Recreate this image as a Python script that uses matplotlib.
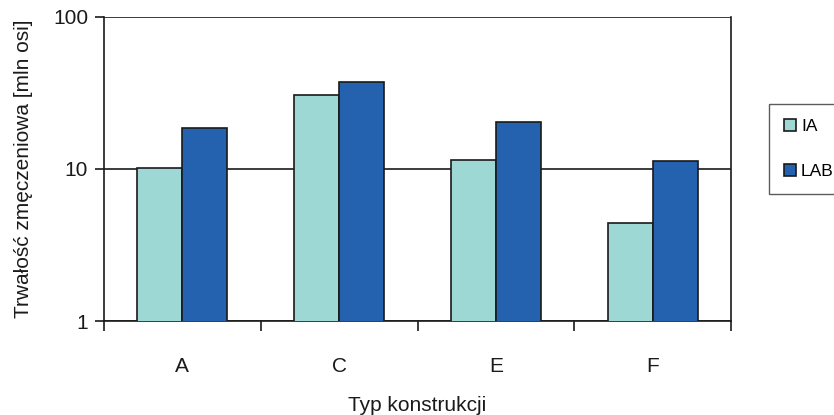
import numpy as np
import matplotlib
matplotlib.use("Agg")
import matplotlib.pyplot as plt
from matplotlib.ticker import FixedLocator, NullFormatter, FixedFormatter
from matplotlib.patches import Patch

plt.rcParams['font.family'] = ['Liberation Sans', 'DejaVu Sans']

categories = ["A", "C", "E", "F"]
ia_values = [10.1, 30.7, 11.5, 4.4]
lab_values = [18.7, 37.6, 20.5, 11.3]
series_names = ["IA", "LAB"]
y_ticks = [1, 10, 100]
y_tick_labels = ["1", "10", "100"]

color_ia = "#9dd8d5"
color_lab = "#2462b0"
edge = "#1a1a1a"
fs = 15

W, H = 834, 415
fig = plt.figure(figsize=(W / 100, H / 100), dpi=100)
ax = fig.add_axes([104 / W, 1 - 321 / H, (731 - 104) / W, (321 - 17) / H])

x = np.arange(len(categories))
bw = 0.287
ax.bar(x - bw / 2, ia_values, width=bw, color=color_ia, edgecolor=edge, linewidth=1.2, zorder=3)
ax.bar(x + bw / 2, lab_values, width=bw, color=color_lab, edgecolor=edge, linewidth=1.2, zorder=3)

ax.set_yscale("log")
ax.set_ylim(1, 100)
ax.set_xlim(-0.5, len(categories) - 0.5)

ax.yaxis.set_major_locator(FixedLocator(y_ticks))
ax.yaxis.set_major_formatter(FixedFormatter(y_tick_labels))
ax.yaxis.set_minor_locator(FixedLocator([]))
ax.tick_params(axis="y", which="major", direction="out", length=6.5, width=1.2,
               labelsize=fs, pad=5, colors="#1a1a1a")
ax.grid(axis="y", which="major", color="#1a1a1a", linewidth=1.2, zorder=1)

# category boundaries get tick marks, category centres get the labels
ax.xaxis.set_major_locator(FixedLocator(np.arange(-0.5, len(categories), 1.0)))
ax.xaxis.set_major_formatter(NullFormatter())
ax.xaxis.set_minor_locator(FixedLocator(x))
ax.xaxis.set_minor_formatter(FixedFormatter(categories))
ax.tick_params(axis="x", which="major", direction="out", length=7.5, width=1.2, colors="#1a1a1a")
ax.tick_params(axis="x", which="minor", length=0, labelsize=fs, pad=26, labelcolor="#1a1a1a")

for s in ax.spines.values():
    s.set_linewidth(1.2)
    s.set_color("#1a1a1a")
ax.spines["top"].set_visible(False)

ax.set_xlabel("Typ konstrukcji", fontsize=fs, labelpad=14, color="#1a1a1a")
ax.set_ylabel("Trwałość zmęczeniowa [mln osi]", fontsize=fs, labelpad=14, color="#1a1a1a")

handles = [Patch(facecolor=color_ia, edgecolor=edge, linewidth=1.2),
           Patch(facecolor=color_lab, edgecolor=edge, linewidth=1.2)]
leg = fig.legend(handles, series_names, loc="upper left",
                 bbox_to_anchor=(769 / W, 1 - 104 / H), bbox_transform=fig.transFigure,
                 fontsize=12.5, frameon=True, fancybox=False, borderpad=0.85,
                 handlelength=0.7, handleheight=0.7, handletextpad=0.3,
                 labelspacing=1.75, borderaxespad=0)
leg.get_frame().set_edgecolor("#333333")
leg.get_frame().set_linewidth(1.0)

fig.savefig("out.png", dpi=100)
